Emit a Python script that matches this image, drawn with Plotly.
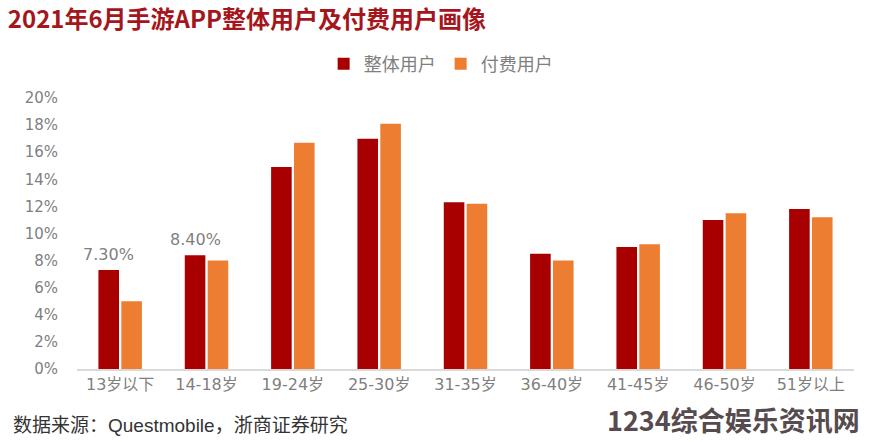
import plotly.graph_objects as go

categories = ["13岁以下", "14-18岁", "19-24岁", "25-30岁", "31-35岁", "36-40岁", "41-45岁", "46-50岁", "51岁以上"]
overall_users = [7.3, 8.4, 14.9, 17.0, 12.3, 8.5, 9.0, 11.0, 11.8]
paying_users = [5.0, 8.0, 16.7, 18.1, 12.2, 8.0, 9.2, 11.5, 11.2]
overall_labels = ["7.30%", "8.40%", "", "", "", "", "", "", ""]
y_ticks = [0, 2, 4, 6, 8, 10, 12, 14, 16, 18, 20]
y_tick_text = [f"{v}%" for v in y_ticks]

title_text = "2021年6月手游APP整体用户及付费用户画像"
source_text = "数据来源：Questmobile，浙商证券研究"
watermark_text = "1234综合娱乐资讯网"

DARK = "#A80000"
ORANGE = "#ED7D31"
GRAY = "#7f7f7f"
FONT = "DejaVu Sans, Noto Sans CJK SC, sans-serif"

fig = go.Figure()
fig.add_trace(go.Bar(
    x=categories, y=overall_users, name="整体用户",
    marker=dict(color=DARK, line=dict(width=0)),
))
fig.add_trace(go.Bar(
    x=categories, y=paying_users, name="付费用户",
    marker=dict(color=ORANGE, line=dict(width=0)),
))

for cat, val, lab in zip(categories, overall_users, overall_labels):
    if lab:
        fig.add_annotation(
            x=cat, y=val, text=lab, showarrow=False,
            xanchor="center", yanchor="middle", xshift=-11.5, yshift=16,
            font=dict(family=FONT, size=16, color=GRAY),
        )

fig.update_layout(
    width=869, height=442,
    paper_bgcolor="white", plot_bgcolor="white",
    margin=dict(l=77, r=15, t=98, b=73, autoexpand=False),
    barmode="group", bargap=0.47, bargroupgap=0.1,
    font=dict(family=FONT, color=GRAY),
    showlegend=True,
    legend=dict(
        orientation="h", x=0.468, xanchor="center", y=0.855, yanchor="middle",
        yref="container", font=dict(family=FONT, size=18, color=GRAY),
        itemwidth=30, traceorder="normal",
    ),
    title=dict(
        text=title_text, x=0.009, xanchor="left", y=0.955, yanchor="middle",
        xref="container",
        font=dict(family="Noto Sans CJK SC, sans-serif", size=24, color="#A5161C", weight="bold"),
    ),
)

fig.update_xaxes(
    showgrid=False, showline=True, linecolor="#d9d9d9", linewidth=2,
    ticks="", tickfont=dict(family=FONT, size=16, color=GRAY),
)
fig.update_yaxes(
    range=[0, 20], tickvals=y_ticks, ticktext=y_tick_text,
    showgrid=False, zeroline=False, showline=False, ticks="",
    ticklabelstandoff=18,
    tickfont=dict(family=FONT, size=15, color=GRAY),
)

fig.add_annotation(
    text=source_text, xref="paper", yref="paper", x=-0.085, y=-0.21,
    xanchor="left", yanchor="middle", showarrow=False,
    font=dict(family="Liberation Sans, Noto Sans CJK SC, sans-serif", size=19, color="#333333"),
)
fig.add_annotation(
    text=watermark_text, xref="paper", yref="paper", x=1.0103, y=-0.188,
    xanchor="right", yanchor="middle", showarrow=False,
    font=dict(family="Noto Sans CJK SC, sans-serif", size=27, color="#564B4E", weight="bold"),
)

fig.write_html("out.html")
